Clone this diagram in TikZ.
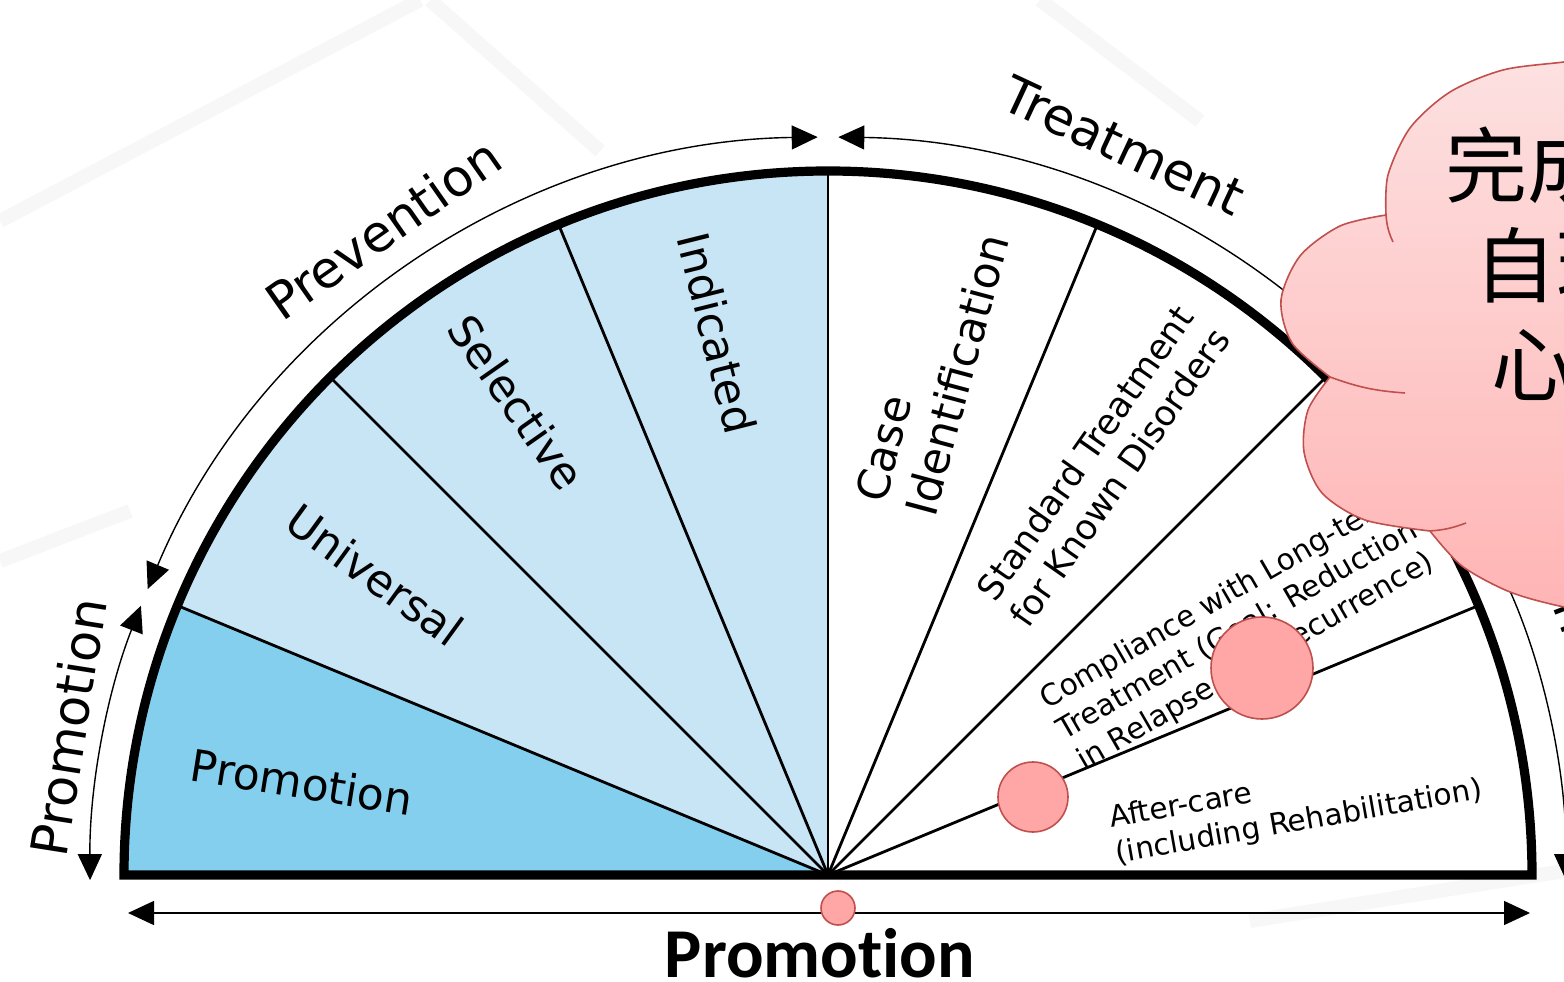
\documentclass[tikz,border=0pt]{standalone}
\usepackage{fontspec}
\setmainfont{DejaVu Sans}
\newfontfamily\cjkfont{Noto Sans CJK TC}
\newfontfamily\calibfont[Ligatures=NoCommon]{Carlito}
\usetikzlibrary{arrows.meta}
\definecolor{promoblue}{RGB}{133,207,238}
\definecolor{prevblue}{RGB}{200,229,246}
\definecolor{cloudline}{RGB}{192,80,77}
\definecolor{cloudtop}{RGB}{253,225,225}
\definecolor{cloudbot}{RGB}{255,180,180}
\definecolor{dotpink}{RGB}{255,166,166}
\tikzset{
  spoke/.style={line width=1.4pt},
  rim/.style={line width=4.6pt,line join=miter},
  span/.style={line width=0.7pt,{Triangle[length=13pt,width=12pt]}-{Triangle[length=13pt,width=12pt]}},
  dot/.style={circle,draw=cloudline,line width=0.8pt,fill=dotpink,inner sep=0pt,minimum size=#1},
  seg/.style={font=\fontsize{22}{26}\selectfont,inner sep=0pt},
  segmid/.style={font=\fontsize{17.5}{21}\selectfont,inner sep=0pt,align=center},
  segsmall/.style={font=\fontsize{14.8}{18}\selectfont,inner sep=0pt},
  arclabel/.style={font=\fontsize{25.5}{30}\selectfont,inner sep=0pt},
  skylight/.style={line width=7pt,black!3},
  cloudtext/.style={font=\cjkfont\fontsize{41}{41}\selectfont,inner sep=0pt,anchor=west}
}
\begin{document}
\begin{tikzpicture}[x=0.5pt,y=0.5pt]
  \useasboundingbox (0,0) rectangle (1564,981);
  \clip (0,0) rectangle (1564,981);
  \fill[white] (0,0) rectangle (1564,981);
  % faint skylight behind the slide
  \foreach \xa/\ya/\xb/\yb in {0/760/420/981, 0/420/130/470, 430/981/600/830,
      1040/981/1200/860, 1250/60/1564/110}
    \draw[skylight] (\xa,\ya) -- (\xb,\yb);
  \begin{scope}[shift={(828,106)}]
    \coordinate (O) at (0,0);
    % sectors
    \fill[promoblue] (O) -- (180:704) arc[start angle=180,end angle=157.5,radius=704] -- cycle;
    \fill[prevblue] (O) -- (157.5:704) arc[start angle=157.5,end angle=90,radius=704] -- cycle;
    \fill[white,fill opacity=.8] (O) -- (90:704) arc[start angle=90,end angle=0,radius=704] -- cycle;
    \foreach \a in {22.5,45,...,157.5}
      \draw[spoke] (O) -- (\a:704);
    \draw[rim] (180:704) arc[start angle=180,end angle=0,radius=704] -- cycle;
    % sector labels
    \node[seg,rotate=-9] (promo) at (-526,93) {Promotion};
    \node[seg,rotate=-36] (univ) at (-453,300) {Universal};
    \node[seg,rotate=-55] (selec) at (-311,473) {Selective};
    \node[seg,rotate=-76] (indic) at (-111,542) {Indicated};
    \node[seg,rotate=75,align=left] (caseid) at (104,507) {Case\\Identification};
    \node[segmid,rotate=55] (stdtreat) at (274,410) {Standard Treatment\\for Known Disorders};
    \node[segsmall,rotate=30,align=center] (comply) at (410,244)
      {Compliance with Long-term\\Treatment (Goal: Reduction\\in Relapse and Recurrence)};
    \node[segsmall,rotate=10,align=left] (after) at (468,70)
      {After-care\\(including Rehabilitation)};
    % outer spans
    \draw[span] (180.4:738) arc[start angle=180.4,end angle=158.6,radius=738];
    \draw[span] (157.2:738) arc[start angle=157.2,end angle=90.8,radius=738];
    \draw[span] (89.2:738) arc[start angle=89.2,end angle=28,radius=738];
    \draw[span] (25.5:738) arc[start angle=25.5,end angle=-0.4,radius=738];
    \node[arclabel,rotate=81] (promoside) at (-760,148) {Promotion};
    \node[arclabel,rotate=35] (prevent) at (-445,646) {Prevention};
    \node[arclabel,rotate=-25] (treat) at (296,729) {Treatment};
    \node[arclabel,rotate=-69] (maint) at (21:792) {Maintenance};
    % promotion axis
    \coordinate (axleft) at (-700,-38);
    \coordinate (axright) at (702,-38);
    \draw[span] (axleft) -- (axright);
    \node[font=\calibfont\bfseries\fontsize{35}{40}\selectfont,inner sep=0pt,anchor=base]
      (promobase) at (-8,-102) {Promotion};
    % marks
    \node[dot=17pt] (dotaxis) at (10,-33) {};
    \node[dot=35pt] (dotafter) at (205,78) {};
    \node[dot=51pt] (dotcomply) at (434,207) {};
  \end{scope}
  % cloud
  \draw[cloudline,line width=0.8pt,top color=cloudtop,bottom color=cloudbot]
    plot[smooth] coordinates {(1620,926) (1564,919) (1503,911) (1450,889) (1410,853) (1388,806) (1386,766)}
    -- plot[smooth] coordinates {(1386,766) (1340,755) (1300,725) (1281,681) (1292,638) (1330,604)}
    -- plot[smooth] coordinates {(1330,604) (1308,571) (1304,529) (1322,488) (1365,461) (1430,450)}
    -- plot[smooth] coordinates {(1430,450) (1462,415) (1510,389) (1564,374) (1620,366)}
    -- (1620,926);
  \draw[cloudline,line width=0.8pt] (1386,766) to[bend right=10] (1393,739);
  \draw[cloudline,line width=0.8pt] (1330,604) to[bend right=8] (1405,588);
  \draw[cloudline,line width=0.8pt] (1430,450) to[bend right=8] (1466,458);
  \node[cloudtext] (wancheng) at (1445,816) {完成};
  \node[cloudtext] (ziwo) at (1474,716) {自理};
  \node[cloudtext] (xin) at (1491,616) {心};
\end{tikzpicture}
\end{document}
